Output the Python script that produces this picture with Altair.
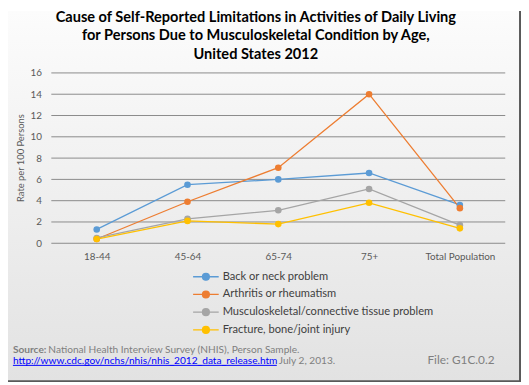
import altair as alt
import pandas as pd

categories = ["18-44", "45-64", "65-74", "75+", "Total Population"]
series_names = [
    "Back or neck problem",
    "Arthritis or rheumatism",
    "Musculoskeletal/connective tissue problem",
    "Fracture, bone/joint injury",
]
back_neck = [1.3, 5.5, 6.0, 6.6, 3.6]
arthritis = [0.4, 3.9, 7.1, 14.0, 3.3]
musculoskeletal = [0.5, 2.3, 3.1, 5.1, 1.7]
fracture = [0.4, 2.1, 1.8, 3.8, 1.4]
colors = ["#5B9BD5", "#ED7D31", "#A5A5A5", "#FFC000"]
y_ticks = [0, 2, 4, 6, 8, 10, 12, 14, 16]

title_lines = [
    "Cause of Self-Reported Limitations in Activities of Daily Living",
    "for Persons Due to Musculoskeletal Condition by Age,",
    "United States 2012",
]
source_label = "Source:"
source_text = "National Health Interview Survey (NHIS), Person Sample."
link_text = "http://www.cdc.gov/nchs/nhis/nhis_2012_data_release.htm"
date_text = "July 2, 2013."
file_text = "File: G1C.0.2"

FONT = "Lato"
W, H = 461, 173

rows = []
for name, vals in zip(series_names, [back_neck, arthritis, musculoskeletal, fracture]):
    for c, v in zip(categories, vals):
        rows.append({"series": name, "age": c, "rate": v})
df = pd.DataFrame(rows)
ticks_df = pd.DataFrame({"tick": y_ticks})
one = pd.DataFrame({"a": [0]})

x_enc = alt.X(
    "age:N",
    sort=categories,
    scale=alt.Scale(domain=categories, padding=0.5),
    axis=alt.Axis(
        title=None, labelAngle=0, domain=False, ticks=False, grid=False,
        labelFontSize=10, labelColor="#595959", labelPadding=8, labelFont=FONT,
        zindex=1,
    ),
)
y_axis = alt.Axis(
    values=y_ticks, title="Rate per 100 Persons", titleFont=FONT, titleFontSize=9.5,
    titleFontWeight="normal", titleColor="#595959", titleX=-31, titleY=86,
    titleAlign="center", titleBaseline="middle", titleAngle=270,
    labelPadding=10, ticks=False, domain=False, grid=False,
    labelFontSize=10, labelColor="#595959", labelFont=FONT, zindex=1,
)
y_scale = alt.Scale(domain=[0, 16])

legend_path = (
    "M-2.6,0H2.6"
    "M0.7,0A0.7,0.7,0,1,1,-0.7,0A0.7,0.7,0,1,1,0.7,0"
    "M0.45,0A0.45,0.45,0,1,1,-0.45,0A0.45,0.45,0,1,1,0.45,0"
    "M0.2,0A0.2,0.2,0,1,1,-0.2,0A0.2,0.2,0,1,1,0.2,0"
)

bg = alt.Chart(one).mark_rect(
    fill=alt.Gradient(
        gradient="linear", x1=0, y1=0, x2=0, y2=1,
        stops=[alt.GradientStop(color="#fcfcfc", offset=0),
               alt.GradientStop(color="#e2e2e2", offset=1)],
    )
).encode(x=alt.value(-44), x2=alt.value(477), y=alt.value(-63), y2=alt.value(314))

border_r = alt.Chart(one).mark_rule(color="#595959", strokeWidth=2).encode(
    x=alt.value(476), y=alt.value(-63), y2=alt.value(314))
border_b = alt.Chart(one).mark_rule(color="#595959", strokeWidth=2).encode(
    x=alt.value(-44), x2=alt.value(477), y=alt.value(313))

grid = alt.Chart(ticks_df).mark_rule(color="#8a8a8a", strokeWidth=1).encode(
    y=alt.Y("tick:Q", scale=y_scale, axis=y_axis),
    x=alt.value(0), x2=alt.value(W),
)

lines = alt.Chart(df).mark_line(strokeWidth=1.3).encode(
    x=x_enc,
    y=alt.Y("rate:Q", scale=y_scale, axis=y_axis),
    color=alt.Color(
        "series:N",
        scale=alt.Scale(domain=series_names, range=colors),
        legend=alt.Legend(
            title=None, orient="none", legendX=151, legendY=201,
            symbolType=legend_path, symbolSize=100, symbolStrokeWidth=1.3,
            labelOffset=11, rowPadding=4, labelFontSize=11.3, labelFont=FONT,
            labelColor="#404040", labelLimit=400,
        ),
    ),
)
points = alt.Chart(df).mark_point(filled=True, size=45, opacity=1).encode(
    x=x_enc,
    y=alt.Y("rate:Q", scale=y_scale, axis=y_axis),
    color=alt.Color("series:N", scale=alt.Scale(domain=series_names, range=colors), legend=None),
)

def txt(s, x, y, size, color, weight="normal", align="left"):
    return alt.Chart(one).mark_text(
        text=s, font=FONT, fontSize=size, color=color, fontWeight=weight,
        align=align, baseline="middle",
    ).encode(x=alt.value(x), y=alt.value(y))

title_layers = [
    txt(title_lines[0], 207.7, -56, 14.8, "#000000", "bold", "center"),
    txt(title_lines[1], 207.7, -37, 14.8, "#000000", "bold", "center"),
    txt(title_lines[2], 207.7, -18, 14.8, "#000000", "bold", "center"),
]
footer = [
    txt(source_label, -39, 281, 10.3, "#7f7f7f", "bold"),
    txt(source_text, -3, 281, 10.3, "#7f7f7f"),
    txt(link_text, -39, 293, 10.3, "#0000ff"),
    txt(date_text, 231, 293, 10.3, "#7f7f7f"),
    txt(file_text, 382, 292, 12, "#7f7f7f"),
]
underline = alt.Chart(one).mark_rule(color="#0000ff", strokeWidth=1).encode(
    x=alt.value(-39), x2=alt.value(229), y=alt.value(297))

chart = alt.layer(
    bg, border_r, border_b, grid, lines, points, *title_layers, *footer, underline
).properties(
    width=W, height=H,
    autosize=alt.AutoSizeParams(type="none"),
    padding={"left": 44, "top": 63, "right": 16, "bottom": 141},
).configure_view(stroke=None).configure(background="transparent")

chart.save("out.html", embed_options={"renderer": "svg", "actions": False})
